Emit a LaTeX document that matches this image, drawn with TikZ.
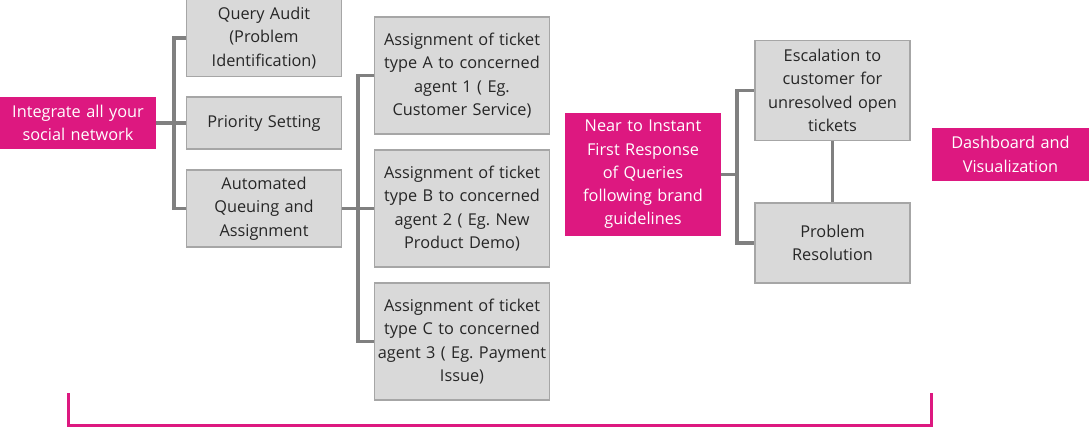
\documentclass[tikz,border=0pt]{standalone}
\usepackage{fontspec}
\setmainfont{Open Sans}
\usepackage{tikz}
\usetikzlibrary{positioning}
\definecolor{hot}{RGB}{221,24,128}
\definecolor{boxgray}{RGB}{217,217,217}
\definecolor{edgegray}{RGB}{166,166,166}
\definecolor{linkgray}{RGB}{128,128,128}
\definecolor{inkgray}{RGB}{38,38,38}
\tikzset{every node/.style={font=\fontsize{16.3}{23.3}\selectfont\frenchspacing}}
\tikzset{task/.style={shape=rectangle, draw=edgegray, line width=1.2pt, fill=boxgray,
    text=inkgray, align=center, inner sep=0pt, minimum width=155pt, text width=155pt}}
\tikzset{stage/.style={shape=rectangle, fill=hot, text=white, align=center,
    inner sep=0pt, minimum width=156pt, text width=156pt}}
\tikzset{link/.style={draw=linkgray, line width=3.5pt}}

\begin{document}
\begin{tikzpicture}[x=1pt, y=-1pt]
    \useasboundingbox (0,0) rectangle (1089,428);

    \node[stage, minimum height=52pt] (social) at (78, 123) {Integrate all your\\social network};
    \node[task, minimum height=77pt] (audit) at (264, 38) {Query Audit\\(Problem\\Identification)};
    \node[task, minimum height=52pt] (priority) at (264, 123) {Priority Setting};
    \node[task, minimum height=77pt] (queue) at (264, 208.5) {Automated\\Queuing and\\Assignment};
    \node[task, minimum height=117pt, minimum width=175pt, text width=175pt] (typeA) at (462, 75.5)
        {Assignment of ticket\\type A to concerned\\agent 1 ( Eg.\\Customer Service)};
    \node[task, minimum height=117pt, minimum width=175pt, text width=175pt] (typeB) at (462, 208.5)
        {Assignment of ticket\\type B to concerned\\agent 2 ( Eg. New\\Product Demo)};
    \node[task, minimum height=117pt, minimum width=175pt, text width=175pt] (typeC) at (462, 341.5)
        {Assignment of ticket\\type C to concerned\\agent 3 ( Eg. Payment\\Issue)};
    \node[stage, minimum height=123pt] (response) at (643, 174.5)
        {Near to Instant\\First Response\\of Queries\\following brand\\guidelines};
    \node[task, minimum height=100pt] (escalate) at (832.5, 90.5)
        {Escalation to\\customer for\\unresolved open\\tickets};
    \node[task, minimum height=80pt] (resolve) at (832.5, 243) {Problem\\Resolution};
    \node[stage, minimum height=53pt, minimum width=157pt, text width=157pt] (dashboard) at (1010.5, 154.5)
        {Dashboard and\\Visualization};

    \coordinate (fork1) at (174, 123);
    \coordinate (fork2) at (358, 208.5);
    \coordinate (fork3) at (737, 174.5);

    \draw [link] (social) -- (fork1);
    \draw [link] (fork1) |- (audit.west);
    \draw [link] (fork1) -- (priority.west);
    \draw [link] (fork1) |- (queue.west);

    \draw [link] (queue.east) -- (fork2);
    \draw [link] (fork2) |- (typeA.west);
    \draw [link] (fork2) -- (typeB.west);
    \draw [link] (fork2) |- (typeC.west);

    \draw [link] (response.east) -- (fork3);
    \draw [link] (fork3) |- (escalate.west);
    \draw [link] (fork3) |- (resolve.west);
    \draw [link] (escalate.south) -- (resolve.north);

    \coordinate (braceL) at (68, 393);
    \coordinate (braceR) at (931, 393);
    \draw [draw=hot, line width=3pt] (braceL) -- (68, 425) -- (931, 425) -- (braceR);
\end{tikzpicture}
\end{document}
